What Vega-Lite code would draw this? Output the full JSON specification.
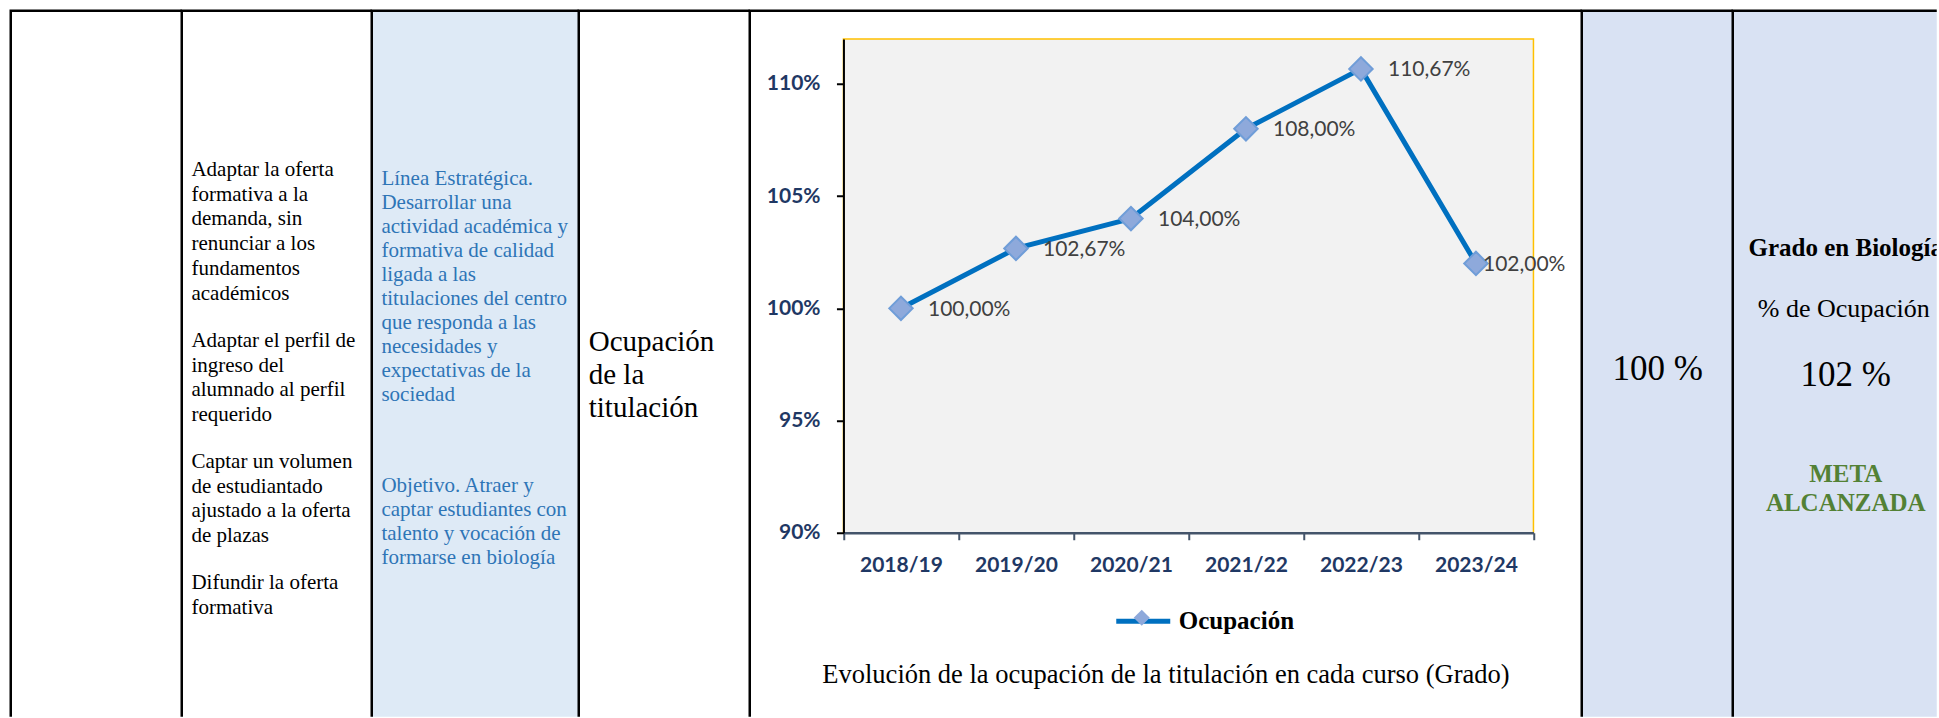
{
  "$schema": "https://vega.github.io/schema/vega-lite/v6.json",
  "padding": {"left": 8.75, "top": 8.75, "right": 0, "bottom": 0},
  "bounds": "flush",
  "spacing": 0,
  "background": "white",
  "config": {
    "view": {"stroke": null},
    "axis": {"grid": false},
    "locale": {"number": {"decimal": ",", "thousands": ".", "grouping": [3], "currency": ["", " €"]}}
  },
  "datasets": {
    "ocupacion": [
      {"curso": "2018/19", "ocupacion": 1.0, "serie": "Ocupación"},
      {"curso": "2019/20", "ocupacion": 1.0267, "serie": "Ocupación"},
      {"curso": "2020/21", "ocupacion": 1.04, "serie": "Ocupación"},
      {"curso": "2021/22", "ocupacion": 1.08, "serie": "Ocupación"},
      {"curso": "2022/23", "ocupacion": 1.1067, "serie": "Ocupación"},
      {"curso": "2023/24", "ocupacion": 1.02, "serie": "Ocupación"}
    ],
    "celdas": [
      {"celda": "c1", "texto": ""},
      {"celda": "c2a", "texto": "Adaptar la oferta\nformativa a la\ndemanda, sin\nrenunciar a los\nfundamentos\nacadémicos"},
      {"celda": "c2b", "texto": "Adaptar el perfil de\ningreso del\nalumnado al perfil\nrequerido"},
      {"celda": "c2c", "texto": "Captar un volumen\nde estudiantado\najustado a la oferta\nde plazas"},
      {"celda": "c2d", "texto": "Difundir la oferta\nformativa"},
      {"celda": "c3a", "texto": "Línea Estratégica.\nDesarrollar una\nactividad académica y\nformativa de calidad\nligada a las\ntitulaciones del centro\nque responda a las\nnecesidades y\nexpectativas de la\nsociedad"},
      {"celda": "c3b", "texto": "Objetivo. Atraer y\ncaptar estudiantes con\ntalento y vocación de\nformarse en biología"},
      {"celda": "c4", "texto": "Ocupación\nde la\ntitulación"},
      {"celda": "c6", "texto": "100 %"},
      {"celda": "c7a", "texto": "Grado en Biología"},
      {"celda": "c7b", "texto": "% de Ocupación"},
      {"celda": "c7c", "texto": "102 %"},
      {"celda": "c7d", "texto": "META\nALCANZADA"}
    ]
  },
  "hconcat": [
    {
      "width": 171, "height": 706,
      "view": {"fill": "white", "stroke": "black", "strokeWidth": 2.5, "strokeDash": [171, 877, 706]},
      "data": {"name": "celdas"},
      "transform": [{"filter": "datum.celda === 'c1'"}],
      "mark": {"type": "text", "x": 10, "y": 100, "fontSize": 10},
      "encoding": {"text": {"field": "texto"}}
    },
    {
      "width": 190, "height": 706,
      "view": {"fill": "white", "stroke": "black", "strokeWidth": 2.5, "strokeDash": [190, 896, 706]},
      "data": {"name": "celdas"},
      "layer": [
        {
          "transform": [{"filter": "datum.celda === 'c2a'"}],
          "mark": {"type": "text", "align": "left", "baseline": "alphabetic", "x": 9.7, "y": 165, "lineBreak": "\n", "lineHeight": 24.75, "font": "Liberation Serif", "fontSize": 21, "color": "#000000"},
          "encoding": {"text": {"field": "texto"}}
        },
        {
          "transform": [{"filter": "datum.celda === 'c2b'"}],
          "mark": {"type": "text", "align": "left", "baseline": "alphabetic", "x": 9.7, "y": 336, "lineBreak": "\n", "lineHeight": 24.75, "font": "Liberation Serif", "fontSize": 21, "color": "#000000"},
          "encoding": {"text": {"field": "texto"}}
        },
        {
          "transform": [{"filter": "datum.celda === 'c2c'"}],
          "mark": {"type": "text", "align": "left", "baseline": "alphabetic", "x": 9.7, "y": 457, "lineBreak": "\n", "lineHeight": 24.75, "font": "Liberation Serif", "fontSize": 21, "color": "#000000"},
          "encoding": {"text": {"field": "texto"}}
        },
        {
          "transform": [{"filter": "datum.celda === 'c2d'"}],
          "mark": {"type": "text", "align": "left", "baseline": "alphabetic", "x": 9.7, "y": 578, "lineBreak": "\n", "lineHeight": 24.75, "font": "Liberation Serif", "fontSize": 21, "color": "#000000"},
          "encoding": {"text": {"field": "texto"}}
        }
      ]
    },
    {
      "width": 207, "height": 706,
      "view": {"fill": "#DEEAF6", "stroke": "black", "strokeWidth": 2.5, "strokeDash": [207, 913, 706]},
      "data": {"name": "celdas"},
      "layer": [
        {
          "transform": [{"filter": "datum.celda === 'c3a'"}],
          "mark": {"type": "text", "align": "left", "baseline": "alphabetic", "x": 9.7, "y": 174, "lineBreak": "\n", "lineHeight": 24.07, "font": "Liberation Serif", "fontSize": 21, "color": "#2E75B6"},
          "encoding": {"text": {"field": "texto"}}
        },
        {
          "transform": [{"filter": "datum.celda === 'c3b'"}],
          "mark": {"type": "text", "align": "left", "baseline": "alphabetic", "x": 9.7, "y": 481, "lineBreak": "\n", "lineHeight": 24.07, "font": "Liberation Serif", "fontSize": 21, "color": "#2E75B6"},
          "encoding": {"text": {"field": "texto"}}
        }
      ]
    },
    {
      "width": 171, "height": 706,
      "view": {"fill": "white", "stroke": "black", "strokeWidth": 2.5, "strokeDash": [171, 877, 706]},
      "data": {"name": "celdas"},
      "transform": [{"filter": "datum.celda === 'c4'"}],
      "mark": {"type": "text", "align": "left", "baseline": "alphabetic", "x": 10, "y": 340.7, "lineBreak": "\n", "lineHeight": 33, "font": "Liberation Serif", "fontSize": 29, "color": "#000000"},
      "encoding": {"text": {"field": "texto"}}
    },
    {
      "width": 832, "height": 706,
      "view": {"fill": "white", "stroke": "black", "strokeWidth": 2.5, "strokeDash": [832, 1538, 706]},
      "resolve": {"scale": {"x": "independent"}, "axis": {"x": "independent"}},
      "layer": [
        {
          "data": {"values": [{"marco": "fondo"}]},
          "mark": {"type": "rect", "fill": "#F2F2F2", "stroke": "#FFC000", "strokeWidth": 1.5},
          "encoding": {
            "x": {"datum": 0, "type": "quantitative", "scale": {"domain": [0, 1], "range": [93.7, 783.7]}, "axis": null},
            "x2": {"datum": 1},
            "y": {"datum": 0.9, "type": "quantitative", "scale": {"domain": [0.9, 1.12], "range": [522, 28.3], "nice": false, "zero": false}},
            "y2": {"datum": 1.12}
          }
        },
        {
          "data": {"name": "ocupacion"},
          "encoding": {
            "x": {
              "field": "curso", "type": "nominal", "sort": null, "bandPosition": 0.5,
              "scale": {"type": "band", "range": [93.7, 783.7], "paddingInner": 0, "paddingOuter": 0},
              "axis": {
                "orient": "bottom", "offset": -184, "zindex": 1,
                "domainColor": "#44546A", "domainWidth": 2.5,
                "tickColor": "#44546A", "tickWidth": 2, "tickSize": 7, "tickBand": "extent",
                "labelFont": "Lato", "labelFontWeight": "bold", "labelFontSize": 21, "labelColor": "#1F3864",
                "labelBaseline": "alphabetic", "labelPadding": 32, "labelAngle": 0, "labelOverlap": false, "labelFlush": false,
                "title": "Evolución de la ocupación de la titulación en cada curso (Grado)",
                "titleFont": "Liberation Serif", "titleFontSize": 26.5, "titleFontWeight": "normal", "titleColor": "#000000",
                "titleX": 415.7, "titleY": 149.7, "titleBaseline": "alphabetic", "titleAlign": "center", "titleAngle": 0
              }
            },
            "y": {
              "field": "ocupacion", "type": "quantitative",
              "scale": {"domain": [0.9, 1.12], "range": [522, 28.3], "nice": false, "zero": false},
              "axis": {
                "orient": "left", "offset": -93.7, "zindex": 1,
                "values": [0.9, 0.95, 1.0, 1.05, 1.1], "format": ".0%",
                "domainColor": "#000000", "domainWidth": 2,
                "tickColor": "#000000", "tickWidth": 2, "tickSize": 7,
                "labelFont": "Lato", "labelFontWeight": "bold", "labelFontSize": 21, "labelColor": "#1F3864",
                "labelPadding": 16.4, "title": null, "grid": false
              }
            }
          },
          "layer": [
            {
              "mark": {"type": "line", "strokeWidth": 5, "strokeJoin": "round", "strokeCap": "round"},
              "encoding": {
                "color": {
                  "datum": "Ocupación",
                  "scale": {"range": ["#0070C0"]},
                  "legend": {
                    "orient": "none", "legendX": 1103, "legendY": 581, "title": null, "padding": 0,
                    "symbolType": "stroke", "symbolStrokeWidth": 5, "symbolSize": 2916,
                    "labelFont": "Liberation Serif", "labelFontWeight": "bold", "labelFontSize": 25, "labelColor": "#000000",
                    "labelOffset": 6
                  }
                }
              }
            },
            {
              "mark": {"type": "point", "filled": true, "fill": "#8EA9DB", "stroke": "#6F9DD8", "strokeWidth": 2, "size": 550, "opacity": 1},
              "encoding": {
                "shape": {
                  "field": "serie", "type": "nominal",
                  "scale": {"range": ["diamond"]},
                  "legend": {
                    "orient": "none", "legendX": 1122, "legendY": 598, "title": null, "padding": 0, "zindex": 2,
                    "symbolFillColor": "#8EA9DB", "symbolStrokeColor": "#6F9DD8", "symbolStrokeWidth": 1.5, "symbolSize": 260,
                    "labelExpr": "''", "labelFontSize": 1
                  }
                }
              }
            },
            {
              "transform": [{"filter": "datum.curso !== '2023/24'"}],
              "mark": {"type": "text", "align": "left", "baseline": "middle", "dx": 27, "dy": 1.5, "font": "Lato", "fontSize": 21, "color": "#404040"},
              "encoding": {"text": {"field": "ocupacion", "type": "quantitative", "format": ".2%"}}
            },
            {
              "transform": [{"filter": "datum.curso === '2023/24'"}],
              "mark": {"type": "text", "align": "left", "baseline": "middle", "dx": 7, "dy": 1.5, "font": "Lato", "fontSize": 21, "color": "#404040"},
              "encoding": {"text": {"field": "ocupacion", "type": "quantitative", "format": ".2%"}}
            }
          ]
        }
      ]
    },
    {
      "width": 151, "height": 706,
      "view": {"fill": "#D9E2F3", "stroke": "black", "strokeWidth": 2.5, "strokeDash": [151, 857, 706]},
      "data": {"name": "celdas"},
      "transform": [{"filter": "datum.celda === 'c6'"}],
      "mark": {"type": "text", "align": "center", "baseline": "alphabetic", "x": 76, "y": 369.3, "font": "Liberation Serif", "fontSize": 35, "color": "#000000"},
      "encoding": {"text": {"field": "texto"}}
    },
    {
      "width": 204, "height": 706,
      "view": {"fill": "#D9E2F3", "stroke": "black", "strokeWidth": 2.5, "strokeDash": [204, 910, 706]},
      "data": {"name": "celdas"},
      "layer": [
        {
          "transform": [{"filter": "datum.celda === 'c7a'"}],
          "mark": {"type": "text", "clip": true, "align": "center", "baseline": "alphabetic", "x": 113, "y": 245, "font": "Liberation Serif", "fontWeight": "bold", "fontSize": 25, "color": "#000000"},
          "encoding": {"text": {"field": "texto"}}
        },
        {
          "transform": [{"filter": "datum.celda === 'c7b'"}],
          "mark": {"type": "text", "clip": true, "align": "center", "baseline": "alphabetic", "x": 111, "y": 306.7, "font": "Liberation Serif", "fontSize": 26, "color": "#000000"},
          "encoding": {"text": {"field": "texto"}}
        },
        {
          "transform": [{"filter": "datum.celda === 'c7c'"}],
          "mark": {"type": "text", "clip": true, "align": "center", "baseline": "alphabetic", "x": 113, "y": 375.7, "font": "Liberation Serif", "fontSize": 35, "color": "#000000"},
          "encoding": {"text": {"field": "texto"}}
        },
        {
          "transform": [{"filter": "datum.celda === 'c7d'"}],
          "mark": {"type": "text", "clip": true, "align": "center", "baseline": "alphabetic", "x": 113, "y": 471.7, "lineBreak": "\n", "lineHeight": 29, "font": "Liberation Serif", "fontWeight": "bold", "fontSize": 25, "color": "#538135"},
          "encoding": {"text": {"field": "texto"}}
        }
      ]
    }
  ]
}
